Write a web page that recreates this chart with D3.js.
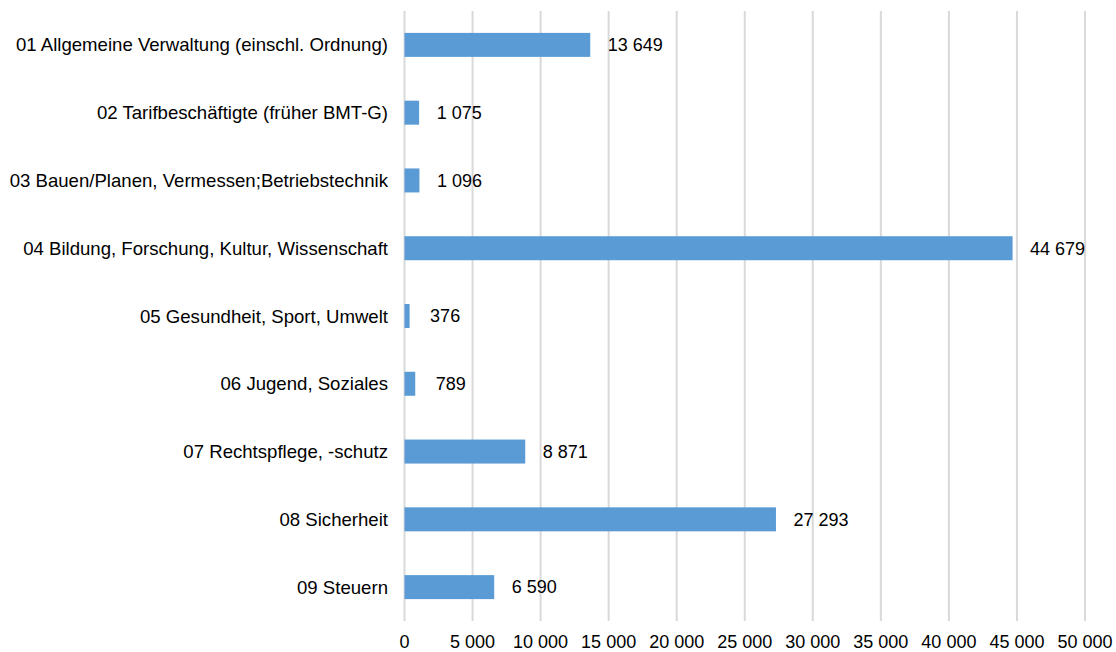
<!DOCTYPE html>
<html><head><meta charset="utf-8">
<script src="https://cdn.jsdelivr.net/npm/d3@7"></script>
<style>body{margin:0;background:#fff;} text{font-family:"Liberation Sans",Arial,sans-serif;fill:#000;}</style>
</head><body><svg id="c" width="1116" height="652"></svg>
<script>
const categories = [
  "01 Allgemeine Verwaltung (einschl. Ordnung)",
  "02 Tarifbeschäftigte (früher BMT-G)",
  "03 Bauen/Planen, Vermessen;Betriebstechnik",
  "04 Bildung, Forschung, Kultur, Wissenschaft",
  "05 Gesundheit, Sport, Umwelt",
  "06 Jugend, Soziales",
  "07 Rechtspflege, -schutz",
  "08 Sicherheit",
  "09 Steuern"
];
const values = [13649, 1075, 1096, 44679, 376, 789, 8871, 27293, 6590];
const tickValues = [0, 5000, 10000, 15000, 20000, 25000, 30000, 35000, 40000, 45000, 50000];

const svg = d3.select("#c");
const m = {left: 404.5, right: 1085, top: 11, bottom: 621};
const loc = d3.formatLocale({decimal: ",", thousands: " ", grouping: [3], currency: ["", ""]});
const fmt = loc.format(",d");

const x = d3.scaleLinear().domain([0, 50000]).range([m.left, m.right]);
const y = d3.scaleBand().domain(categories).range([m.top, m.bottom]).paddingInner(0.646).paddingOuter(0.323);

svg.append("g").selectAll("line").data(tickValues).join("line")
  .attr("x1", d => x(d)).attr("x2", d => x(d))
  .attr("y1", m.top).attr("y2", m.bottom)
  .attr("stroke", "#d9d9d9").attr("stroke-width", 2);

svg.append("g").selectAll("rect").data(values).join("rect")
  .attr("x", x(0)).attr("y", (d, i) => y(categories[i]))
  .attr("width", d => x(d) - x(0)).attr("height", y.bandwidth())
  .attr("fill", "#5b9bd5");

svg.append("g").selectAll("text").data(values).join("text")
  .attr("x", d => x(d) + (d < 1000 ? 20.5 : 17.5)).attr("y", (d, i) => y(categories[i]) + y.bandwidth() / 2)
  .attr("dy", "0.35em").attr("font-size", 18).text(d => fmt(d));

svg.append("g").selectAll("text").data(categories).join("text")
  .attr("x", 388).attr("y", d => y(d) + y.bandwidth() / 2)
  .attr("dy", "0.35em").attr("text-anchor", "end").attr("font-size", 18.6).text(d => d);

svg.append("g").selectAll("text").data(tickValues).join("text")
  .attr("x", d => x(d)).attr("y", 642)
  .attr("dy", "0.35em").attr("text-anchor", "middle").attr("font-size", 18).text(d => fmt(d));
</script></body></html>
